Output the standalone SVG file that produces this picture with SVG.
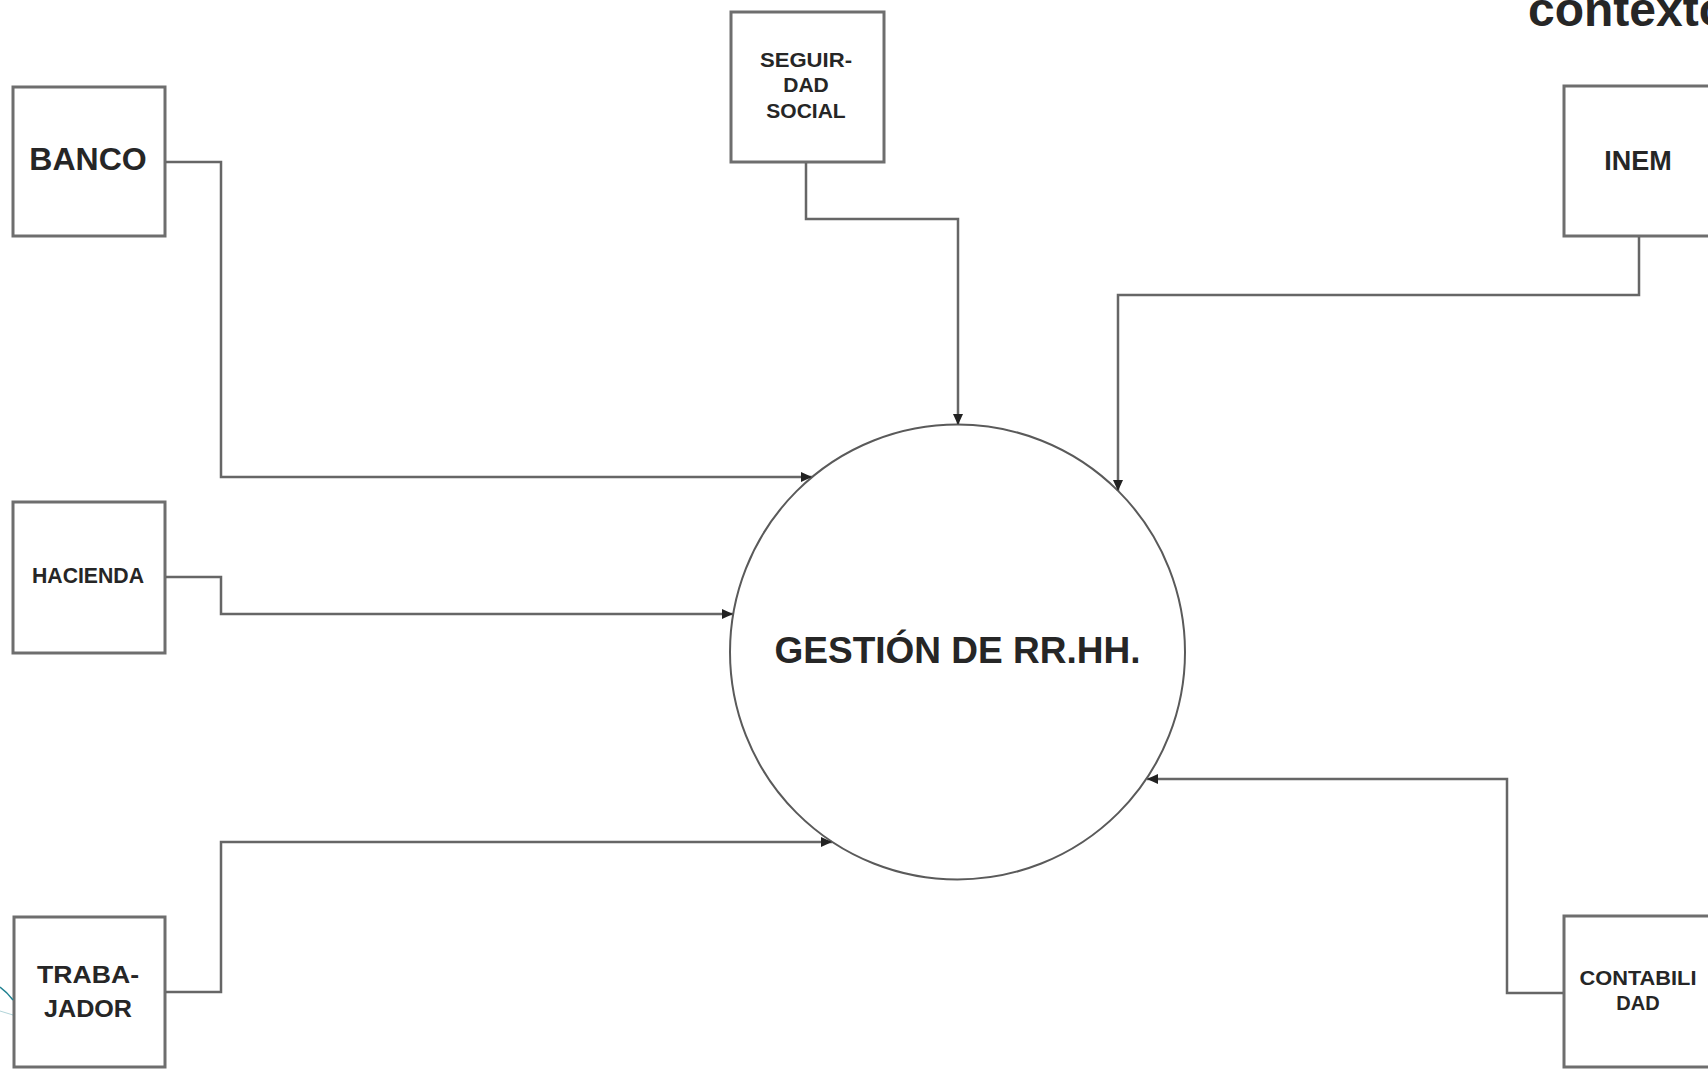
<svg xmlns="http://www.w3.org/2000/svg" width="1708" height="1069" viewBox="0 0 1708 1069">
<style>
.box{fill:#fff;stroke:#6e6e6e;stroke-width:3}
.lbl{font-family:"Liberation Sans",Arial,sans-serif;font-weight:bold;fill:#262626;text-anchor:middle}
.conn{fill:none;stroke:#666;stroke-width:2.5}
.proc{fill:#fff;stroke:#5a5a5a;stroke-width:2}
</style>
<defs>
<marker id="arr" markerUnits="userSpaceOnUse" markerWidth="12" markerHeight="10" refX="11" refY="5" orient="auto">
<path d="M0,0 L11,5 L0,10 Z" fill="#222"/>
</marker>
</defs>
<rect width="1708" height="1069" fill="#fff"/>
<text class="lbl" x="1528" y="26" font-size="48" style="text-anchor:start">contexto</text>
<g id="proceso">
<circle class="proc" cx="957.5" cy="652" r="227.5"/>
<text class="lbl" x="957.5" y="663" font-size="37">GESTIÓN DE RR.HH.</text>
</g>
<g id="banco">
<rect class="box" x="13" y="87" width="152" height="149"/>
<text class="lbl" x="88" y="170" font-size="32">BANCO</text>
</g>
<g id="seguridad-social">
<rect class="box" x="731" y="12" width="153" height="150"/>
<text class="lbl" x="806" y="67" font-size="21" textLength="92" lengthAdjust="spacingAndGlyphs">SEGUIR-</text>
<text class="lbl" x="806" y="92" font-size="21">DAD</text>
<text class="lbl" x="806" y="118" font-size="21">SOCIAL</text>
</g>
<g id="inem">
<rect class="box" x="1564" y="86" width="160" height="150"/>
<text class="lbl" x="1638" y="170" font-size="27">INEM</text>
</g>
<g id="hacienda">
<rect class="box" x="13" y="502" width="152" height="151"/>
<text class="lbl" x="88" y="583" font-size="22" textLength="112" lengthAdjust="spacingAndGlyphs">HACIENDA</text>
</g>
<g id="trabajador">
<rect class="box" x="14" y="917" width="151" height="150"/>
<text class="lbl" x="88" y="983" font-size="24" textLength="102" lengthAdjust="spacingAndGlyphs">TRABA-</text>
<text class="lbl" x="88" y="1017" font-size="24" textLength="88" lengthAdjust="spacingAndGlyphs">JADOR</text>
</g>
<g id="contabilidad">
<rect class="box" x="1564" y="916" width="160" height="151"/>
<text class="lbl" x="1638" y="985" font-size="20" textLength="117" lengthAdjust="spacingAndGlyphs">CONTABILI</text>
<text class="lbl" x="1638" y="1010" font-size="20">DAD</text>
</g>
<g id="connectors">
<path class="conn" marker-end="url(#arr)" d="M166,162 H221 V477 H812"/>
<path class="conn" marker-end="url(#arr)" d="M806,163 V219 H958 V425"/>
<path class="conn" marker-end="url(#arr)" d="M1639,237 V295 H1118 V491"/>
<path class="conn" marker-end="url(#arr)" d="M166,577 H221 V614 H733"/>
<path class="conn" marker-end="url(#arr)" d="M166,992 H221 V842 H832"/>
<path class="conn" marker-end="url(#arr)" d="M1563,993 H1507 V779 H1147"/>
</g>
<path d="M0,987 Q7,992 13,1000" fill="none" stroke="#1f8190" stroke-width="1.5"/>
<path d="M0,1011 L13,1015" fill="none" stroke="#1f8190" stroke-width="1" opacity="0.35"/>
</svg>
